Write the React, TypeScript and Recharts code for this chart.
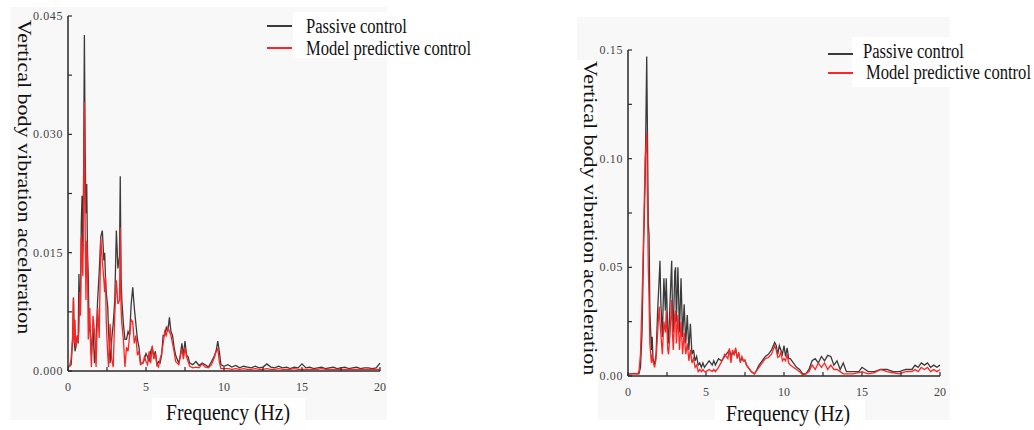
import React from 'react';
import { LineChart, Line, XAxis, YAxis } from 'recharts';

// left panel (road input 1)
const leftFreq = [
  0, 0.1, 0.2, 0.3, 0.35, 0.4, 0.45, 0.5, 0.55, 0.6, 0.65, 0.7, 0.75, 0.8, 0.85, 0.9, 0.95,
  1.0, 1.05, 1.1, 1.15, 1.2, 1.25, 1.3, 1.35, 1.4, 1.45, 1.5, 1.6, 1.7, 1.8, 1.9,
  2.0, 2.1, 2.2, 2.3, 2.35, 2.4, 2.45, 2.5, 2.55, 2.6, 2.7, 2.8, 2.9,
  3.0, 3.1, 3.2, 3.3, 3.35, 3.4, 3.45, 3.55, 3.65, 3.75, 3.85, 3.95,
  4.05, 4.15, 4.25, 4.35, 4.45, 4.55, 4.65, 4.8, 4.9, 5.0,
  5.1, 5.2, 5.3, 5.4, 5.5, 5.6, 5.7, 5.8, 5.9, 6.0, 6.1, 6.2, 6.3, 6.4, 6.5, 6.6, 6.7, 6.8, 6.9, 7.0,
  7.1, 7.2, 7.3, 7.4, 7.5, 7.6, 7.7, 7.8, 8.0, 8.2, 8.4, 8.6, 8.8, 9.0, 9.2, 9.4, 9.5, 9.6, 9.7, 9.8, 10.0,
  10.25, 10.5, 10.75, 11, 11.25, 11.5, 11.75, 12, 12.25, 12.5, 12.75, 13, 13.25, 13.5, 13.75, 14, 14.25, 14.5, 14.75, 15,
  15.25, 15.5, 15.75, 16, 16.25, 16.5, 16.75, 17, 17.25, 17.5, 17.75, 18, 18.25, 18.5, 18.75, 19, 19.25, 19.5, 19.75, 20,
];
const leftPassive = [
  0.0005, 0.0006, 0.0008, 0.004, 0.0093, 0.004, 0.0025, 0.003, 0.004, 0.0045, 0.0035, 0.0123, 0.009, 0.008, 0.0186, 0.0222, 0.015,
  0.025, 0.0426, 0.028, 0.02, 0.0237, 0.015, 0.012, 0.005, 0.006, 0.004, 0.002, 0.0055, 0.001, 0.004, 0.009,
  0.0125, 0.017, 0.0178, 0.014, 0.015, 0.012, 0.01, 0.009, 0.008, 0.005, 0.001, 0.004, 0.006,
  0.009, 0.0178, 0.013, 0.0145, 0.0247, 0.012, 0.009, 0.006, 0.004, 0.004, 0.005, 0.0045,
  0.0085, 0.0106, 0.008, 0.006, 0.004, 0.003, 0.001, 0.001, 0.0015, 0.0022,
  0.0018, 0.0012, 0.0025, 0.003, 0.0018, 0.0025, 0.0008, 0.0012, 0.001, 0.002, 0.0045, 0.0045, 0.0055, 0.005, 0.0068, 0.005, 0.0045, 0.003, 0.002, 0.0015,
  0.001, 0.002, 0.0035, 0.002, 0.0038, 0.002, 0.0018, 0.001, 0.0008, 0.0012, 0.0007, 0.001, 0.0008, 0.0005, 0.0012, 0.002, 0.0026, 0.0038, 0.0025, 0.0008, 0.0006,
  0.0008, 0.0005, 0.0007, 0.0004, 0.0006, 0.0005, 0.0004, 0.0006, 0.0004, 0.0005, 0.0009, 0.0005, 0.0004, 0.0006, 0.0004, 0.0005, 0.0003, 0.0005, 0.0004, 0.0009,
  0.0004, 0.0005, 0.0003, 0.0004, 0.0005, 0.0003, 0.0004, 0.0005, 0.0003, 0.0004, 0.0005, 0.0003, 0.0004, 0.0005, 0.0003, 0.0004, 0.0004, 0.0003, 0.0004, 0.001,
];
const leftMpc = [
  0.0005, 0.0006, 0.0015, 0.0045, 0.0092, 0.0035, 0.0065, 0.003, 0.0035, 0.0042, 0.004, 0.005, 0.01, 0.007, 0.017, 0.015, 0.012,
  0.02, 0.0341, 0.018, 0.009, 0.0165, 0.013, 0.004, 0.006, 0.008, 0.003, 0.0005, 0.007, 0.005, 0.0005, 0.008,
  0.0042, 0.0168, 0.014, 0.0115, 0.01, 0.012, 0.0065, 0.004, 0.002, 0.0005, 0.006, 0.0015, 0.0005,
  0.0072, 0.0115, 0.0085, 0.009, 0.0182, 0.008, 0.006, 0.004, 0.0005, 0.003, 0.0025, 0.0045,
  0.0065, 0.0062, 0.0035, 0.0045, 0.002, 0.0025, 0.0008, 0.001, 0.0018, 0.0012,
  0.0008, 0.0025, 0.001, 0.0032, 0.0015, 0.0022, 0.0008, 0.0005, 0.0015, 0.0022, 0.0035, 0.005, 0.0045, 0.0055, 0.005, 0.0045, 0.0035, 0.0025, 0.0012, 0.001,
  0.0008, 0.0018, 0.0028, 0.0015, 0.003, 0.0018, 0.0012, 0.0006, 0.0004, 0.0005, 0.0004, 0.0009, 0.0005, 0.0004, 0.0008, 0.0018, 0.0025, 0.0028, 0.0012, 0.0003, 0.0003,
  0.0003, 0.0002, 0.0003, 0.0002, 0.0003, 0.0002, 0.0002, 0.0003, 0.0002, 0.0002, 0.0003, 0.0002, 0.0002, 0.0003, 0.0002, 0.0002, 0.0002, 0.0003, 0.0002, 0.0002,
  0.0002, 0.0002, 0.0002, 0.0002, 0.0003, 0.0002, 0.0002, 0.0002, 0.0002, 0.0002, 0.0002, 0.0002, 0.0002, 0.0002, 0.0002, 0.0002, 0.0002, 0.0002, 0.0002, 0.0002,
];

// right panel (road input 2)
const rightFreq = [
  0, 0.2, 0.4, 0.6, 0.7, 0.8, 0.9, 1.0,
  1.1, 1.2, 1.3, 1.35, 1.4, 1.5, 1.55, 1.6, 1.7, 1.8, 1.9, 2.0,
  2.05, 2.1, 2.2, 2.3, 2.4, 2.45, 2.55, 2.6, 2.7, 2.8, 2.85, 2.9, 3.0,
  3.05, 3.1, 3.2, 3.25, 3.3, 3.4, 3.5, 3.6, 3.7, 3.8, 3.9, 4.0,
  4.1, 4.2, 4.3, 4.4, 4.5, 4.6, 4.7, 4.8, 4.9, 5.0,
  5.2, 5.4, 5.5, 5.6, 5.8, 6.0, 6.2, 6.4, 6.5, 6.6, 6.7, 6.8, 6.9, 7.0,
  7.1, 7.2, 7.3, 7.4, 7.5, 7.6, 7.7, 7.8, 7.9, 8.0, 8.1, 8.2, 8.4, 8.6, 8.8, 9.0,
  9.2, 9.4, 9.5, 9.6, 9.7, 9.8, 9.9, 10.0, 10.1, 10.2, 10.3, 10.4, 10.6, 10.8, 11.0,
  11.2, 11.4, 11.6, 11.8, 12.0, 12.2, 12.4, 12.6, 12.8, 13.0, 13.2, 13.4, 13.6, 13.8, 14.0,
  14.4, 14.8, 15.0, 15.4, 15.8, 16.2, 16.6, 17.0, 17.4, 17.8, 18.2, 18.4, 18.6, 18.8, 19.0, 19.2, 19.4, 19.6, 19.8, 20.0,
];
const rightPassive = [
  0.001, 0.001, 0.0012, 0.001, 0.001, 0.004, 0.02, 0.06,
  0.09, 0.147, 0.07, 0.065, 0.03, 0.012, 0.018, 0.008, 0.005, 0.01, 0.03, 0.045,
  0.053, 0.035, 0.018, 0.045, 0.03, 0.045, 0.02, 0.015, 0.035, 0.053, 0.03, 0.02, 0.048,
  0.05, 0.025, 0.05, 0.035, 0.02, 0.045, 0.018, 0.033, 0.015, 0.028, 0.012, 0.024,
  0.01, 0.012, 0.007, 0.009, 0.005, 0.006, 0.004, 0.006, 0.004, 0.005,
  0.007, 0.005, 0.007, 0.005, 0.008, 0.007, 0.009, 0.011, 0.012, 0.009, 0.011, 0.01, 0.012, 0.009,
  0.01, 0.007, 0.008, 0.007, 0.007, 0.005, 0.004, 0.003, 0.002, 0.0015, 0.001, 0.002, 0.005, 0.007, 0.009, 0.01,
  0.012, 0.0155, 0.014, 0.01, 0.014, 0.012, 0.01, 0.014, 0.009, 0.013, 0.008, 0.008, 0.006, 0.004, 0.003,
  0.001, 0.001, 0.003, 0.007, 0.008, 0.006, 0.009, 0.007, 0.0095, 0.009, 0.005, 0.007, 0.003, 0.006, 0.002,
  0.002, 0.002, 0.004, 0.002, 0.002, 0.003, 0.003, 0.002, 0.002, 0.003, 0.003, 0.005, 0.004, 0.006, 0.005, 0.006, 0.004, 0.005, 0.004, 0.005,
];
const rightMpc = [
  0.001, 0.001, 0.001, 0.001, 0.002, 0.01, 0.035, 0.065,
  0.1, 0.112, 0.05, 0.035, 0.015, 0.006, 0.01, 0.007, 0.004, 0.008, 0.02, 0.032,
  0.025, 0.02, 0.01, 0.025, 0.02, 0.03, 0.012, 0.01, 0.02, 0.035, 0.02, 0.012, 0.028,
  0.03, 0.015, 0.028, 0.02, 0.012, 0.025, 0.01, 0.02, 0.01, 0.015, 0.007, 0.012,
  0.006, 0.008, 0.004, 0.005, 0.002, 0.003, 0.002, 0.003, 0.002, 0.002,
  0.003, 0.002, 0.003, 0.002, 0.004, 0.0066, 0.01, 0.008, 0.0127, 0.006, 0.012, 0.01, 0.013, 0.008,
  0.011, 0.006, 0.009, 0.007, 0.0075, 0.005, 0.004, 0.003, 0.002, 0.0015, 0.001, 0.002, 0.004, 0.006, 0.008, 0.0085,
  0.01, 0.014, 0.012, 0.0085, 0.009, 0.011, 0.007, 0.008, 0.007, 0.01, 0.006, 0.005, 0.004, 0.003, 0.002,
  0.0005, 0.001, 0.002, 0.005, 0.003, 0.006, 0.004, 0.006, 0.003, 0.005, 0.003, 0.003, 0.002, 0.001, 0.001,
  0.001, 0.0015, 0.002, 0.001, 0.0015, 0.003, 0.002, 0.0015, 0.001, 0.002, 0.002, 0.003, 0.002, 0.004, 0.003, 0.004, 0.002, 0.003, 0.002, 0.003,
];

const freqTicks = [0, 2.5, 5, 7.5, 10, 12.5, 15, 17.5, 20];
const leftYTicks = [0, 0.0075, 0.015, 0.0225, 0.03, 0.0375, 0.045];
const rightYTicks = [0, 0.025, 0.05, 0.075, 0.1, 0.125, 0.15];
const seriesNames = ['Passive control', 'Model predictive control'];
const xTitle = 'Frequency (Hz)';
const yTitle = 'Vertical body vibration acceleration';

const PASSIVE = '#3a3a3a';
const MPC = '#ff2424';
const AXIS = '#2a2a2a';
const PANEL = '#f8f8f8';
const SERIF = '"Liberation Serif", "Times New Roman", serif';

const Y_AXIS_W = 60;
const X_AXIS_H = 30;

function XTick(props: any) {
  const { x, y, payload } = props;
  const major = payload.value % 5 === 0;
  return (
    <g>
      <line x1={x} x2={x} y1={y} y2={y - 4} stroke={AXIS} strokeWidth={1.2} />
      {major && (
        <text x={x} y={y + 20} textAnchor="middle" fontSize={12} fill="#444" fontFamily={SERIF}>
          {payload.value}
        </text>
      )}
    </g>
  );
}

function YTick(props: any) {
  const { x, y, payload, index, digits } = props;
  return (
    <g>
      <line x1={x} x2={x + 4} y1={y} y2={y} stroke={AXIS} strokeWidth={1.2} />
      {index % 2 === 0 && (
        <text x={x - 5} y={y + 4} textAnchor="end" fontSize={12} fill="#444" fontFamily={SERIF} letterSpacing={0.6}>
          {payload.value.toFixed(digits)}
        </text>
      )}
    </g>
  );
}

function Panel({ freq, passive, mpc, yTicks, yMax, digits, left, width, plotLeft, plotTop, plotBottom }: any) {
  const data = freq.map((f: number, i: number) => ({ f, passive: passive[i], mpc: mpc[i] }));
  const margin = {
    top: plotTop,
    right: 20,
    left: plotLeft - Y_AXIS_W,
    bottom: 430 - plotBottom - X_AXIS_H,
  };
  return (
    <div style={{ position: 'absolute', left, top: 0 }}>
      <LineChart width={width} height={430} data={data} margin={margin}>
        <XAxis
          dataKey="f"
          type="number"
          domain={[0, 20]}
          ticks={freqTicks}
          interval={0}
          height={X_AXIS_H}
          tickSize={0}
          tickMargin={0}
          axisLine={{ stroke: AXIS, strokeWidth: 1.5 }}
          tickLine={false}
          tick={(p: any) => <XTick {...p} />}
        />
        <YAxis
          type="number"
          domain={[0, yMax]}
          ticks={yTicks}
          interval={0}
          width={Y_AXIS_W}
          tickSize={0}
          tickMargin={0}
          axisLine={{ stroke: AXIS, strokeWidth: 1.5 }}
          tickLine={false}
          tick={(p: any) => <YTick {...p} digits={digits} />}
        />
        <Line type="linear" dataKey="passive" stroke={PASSIVE} strokeWidth={1.3} dot={false} isAnimationActive={false} />
        <Line type="linear" dataKey="mpc" stroke={MPC} strokeWidth={1.3} dot={false} isAnimationActive={false} />
      </LineChart>
    </div>
  );
}

// legend: two short line samples on the panel, labels on a white box
function LegendBlock({ lineLeft, line1, line2, base1, base2, textLeft1, textLeft2, box }: any) {
  const text = (label: string, l: number, baseline: number) => (
    <div
      style={{
        position: 'absolute', left: l, top: baseline - 16, fontFamily: SERIF, fontSize: 20, lineHeight: '18px',
        whiteSpace: 'nowrap', transform: 'scaleX(0.83)', transformOrigin: 'left center', color: '#111',
      }}
    >
      {label}
    </div>
  );
  return (
    <>
      <div style={{ position: 'absolute', background: '#fff', ...box }} />
      <div style={{ position: 'absolute', left: lineLeft, top: line1, width: 25, height: 1.6, background: PASSIVE }} />
      <div style={{ position: 'absolute', left: lineLeft, top: line2, width: 25, height: 1.6, background: MPC }} />
      {text(seriesNames[0], textLeft1, base1)}
      {text(seriesNames[1], textLeft2, base2)}
    </>
  );
}

function XTitle({ cx, top }: any) {
  return (
    <div
      style={{
        position: 'absolute', left: cx - 110, top, width: 220, textAlign: 'center', fontFamily: SERIF,
        fontSize: 24, lineHeight: '23px', transform: 'scaleX(0.82)', color: '#111', whiteSpace: 'nowrap',
      }}
    >
      {xTitle}
    </div>
  );
}

function YTitle({ cx, cy }: any) {
  return (
    <div
      style={{
        position: 'absolute', left: cx - 180, top: cy - 12, width: 360, height: 24, textAlign: 'center',
        fontFamily: SERIF, fontSize: 22, lineHeight: '24px', transform: 'scaleX(0.85) rotate(90deg)',
        color: '#111', whiteSpace: 'nowrap',
      }}
    >
      {yTitle}
    </div>
  );
}

export default function App() {
  return (
    <div style={{ position: 'absolute', left: 0, top: 0, width: 1034, height: 430, background: '#fff', overflow: 'hidden' }}>
      {/* panel backgrounds */}
      <div style={{ position: 'absolute', left: 10, top: 7, width: 377, height: 413, background: PANEL }} />
      <div style={{ position: 'absolute', left: 577, top: 17, width: 373, height: 403, background: PANEL }} />
      <div style={{ position: 'absolute', left: 577, top: 60, width: 21, height: 360, background: '#fff' }} />
      <div style={{ position: 'absolute', left: 152, top: 398, width: 153, height: 32, background: '#fff' }} />
      <div style={{ position: 'absolute', left: 715, top: 400, width: 150, height: 30, background: '#fff' }} />

      <Panel
        freq={leftFreq} passive={leftPassive} mpc={leftMpc} yTicks={leftYTicks} yMax={0.045} digits={3}
        left={0} width={400} plotLeft={68} plotTop={16} plotBottom={371}
      />
      <Panel
        freq={rightFreq} passive={rightPassive} mpc={rightMpc} yTicks={rightYTicks} yMax={0.15} digits={2}
        left={540} width={420} plotLeft={88} plotTop={50} plotBottom={376}
      />

      <LegendBlock lineLeft={267} line1={25} line2={47} base1={33} base2={55} textLeft1={306} textLeft2={306}
        box={{ left: 293, top: 12, width: 187, height: 46 }} />
      <LegendBlock lineLeft={828} line1={53} line2={72} base1={58} base2={79} textLeft1={863} textLeft2={866}
        box={{ left: 852, top: 37, width: 182, height: 50 }} />

      <XTitle cx={228} top={401} />
      <XTitle cx={788} top={402} />
      <YTitle cx={24} cy={177} />
      <YTitle cx={590} cy={218} />
    </div>
  );
}
